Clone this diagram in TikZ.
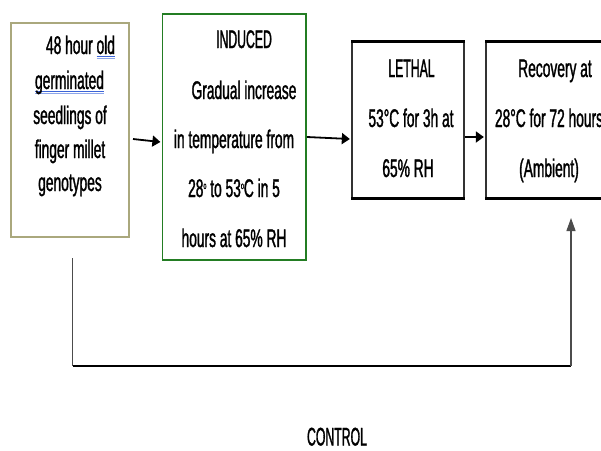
\documentclass[tikz,border=0pt]{standalone}
\usepackage{fontspec}
\setmainfont[FakeStretch=0.54,FakeBold=1.2]{Liberation Sans}
\newfontfamily\capsfont[FakeStretch=0.48,FakeBold=1.2]{Liberation Sans}
\usetikzlibrary{arrows.meta}
\definecolor{khaki}{RGB}{170,168,125}
\definecolor{boxgreen}{RGB}{35,125,35}
\definecolor{ulblue}{RGB}{60,100,215}
\definecolor{ulblue2}{RGB}{140,165,235}
\newlength\ulwd
\newcommand\dblul[1]{\settowidth\ulwd{#1}\rlap{\textcolor{ulblue}{\rule[-2.8pt]{\ulwd}{0.8pt}}}\rlap{\textcolor{ulblue2}{\rule[-5pt]{\ulwd}{0.8pt}}}#1}
\newcommand\supo{\raisebox{8pt}{\fontsize{10}{10}\selectfont o}}
\tikzset{
  txt/.style={inner sep=0pt, anchor=base, font=\fontsize{25.5}{30}\selectfont},
  capt/.style={inner sep=0pt, anchor=base, font=\fontsize{25.5}{30}\selectfont\capsfont},
  boxa/.style={draw=khaki, line width=2pt, minimum width=118pt, minimum height=214pt, inner sep=0pt},
  boxb/.style={draw=boxgreen, line width=1.8pt, minimum width=143.5pt, minimum height=246pt, inner sep=0pt},
  boxc/.style={draw=black!80, line width=1.3pt, minimum height=156pt, inner sep=0pt},
  hedge/.style={line width=2.4pt, black},
  arr/.style={line width=1.8pt, black, -{Triangle[length=8pt,width=11pt]}},
  vthin/.style={line width=1.2pt, black!70},
  hthick/.style={line width=2.6pt, black},
}
\begin{document}
\begin{tikzpicture}[x=1pt,y=-1pt]
\clip (0,0) rectangle (601,450);
\fill[white] (0,0) rectangle (601,450);
% boxes
\node[boxa] (b1) at (70,130) {};
\node[boxb] (b2) at (234.25,137) {};
\node[boxc, minimum width=112pt] (b3) at (408,120) {};
\node[boxc, minimum width=126pt] (b4) at (549,120) {};
\draw[hedge] (b3.north west) -- (b3.north east);
\draw[hedge] (b3.south west) -- (b3.south east);
\draw[hedge] (b4.north west) -- (b4.north east);
\draw[hedge] (b4.south west) -- (b4.south east);
% box 1 text
\node[txt] (t11) at (80.5,54) {48 hour \dblul{old}};
\node[txt] (t12) at (69.5,89) {\dblul{germinated}};
\node[txt] (t13) at (70,124) {seedlings of};
\node[txt] (t14) at (70,158) {finger millet};
\node[txt] (t15) at (70,191) {genotypes};
% box 2 text
\node[capt] (t21) at (244,48) {INDUCED};
\node[txt] (t22) at (244,99) {Gradual increase};
\node[txt] (t23) at (234,148) {in temperature from};
\node[txt] (t24) at (234,197) {28\supo{} to 53\supo C in 5};
\node[txt] (t25) at (234,247) {hours at 65\% RH};
% box 3 text
\node[capt] (t31) at (411.5,77) {LETHAL};
\node[txt] (t32) at (411,127) {53°C for 3h at};
\node[txt] (t33) at (408,177) {65\% RH};
% box 4 text
\node[txt] (t41) at (555,77) {Recovery at};
\node[txt] (t42) at (549,127) {28°C for 72 hours};
\node[txt] (t43) at (549,177) {(Ambient)};
% arrows
\draw[arr] ([xshift=3pt,yshift=-9pt]b1.east) -- ([xshift=-1.2pt,yshift=-5pt]b2.west);
\draw[arr] ([yshift=0pt]b2.east) -- ([xshift=-1.5pt,yshift=-19pt]b3.west);
\draw[arr] ([yshift=-17pt]b3.east) -- ([xshift=-1.5pt,yshift=-17pt]b4.west);
% control path
\coordinate (cs) at (72.8,258);
\coordinate (cb) at (72.8,366);
\coordinate (cr) at (571,366);
\coordinate (ce) at (571,218);
\draw[vthin] (cs) -- (cb);
\draw[hthick] (cb) -- (cr);
\draw[vthin, -{Triangle[length=13pt,width=9pt]}] (cr) -- (ce);
\node[capt] (ctl) at (337,445.5) {CONTROL};
\end{tikzpicture}
\end{document}
